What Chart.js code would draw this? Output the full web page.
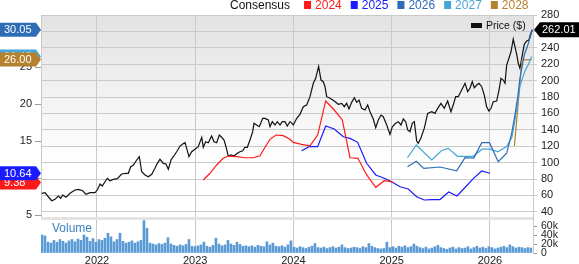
<!DOCTYPE html>
<html>
<head>
<meta charset="utf-8">
<script src="https://cdn.jsdelivr.net/npm/chart.js@4/dist/chart.umd.min.js"></script>
<style>
  html, body { margin: 0; padding: 0; background: #fff; }
  #wrap { width: 579px; height: 264px; }
</style>
</head>
<body>
<div id="wrap"><canvas id="chart" width="579" height="264"></canvas></div>
<script>
// axis ticks
const yearTicks = [2022, 2023, 2024, 2025, 2026];
const priceTicks = [40, 60, 80, 100, 120, 140, 160, 180, 200, 220, 240, 260, 280];
const epsTicks = [5, 10, 15, 20, 25, 30];
const volTicks = [0, 20, 40, 60];

// price ($), dates as decimal years
const priceDates = [
  2021.437, 2021.471, 2021.504, 2021.539, 2021.573, 2021.606, 2021.631, 2021.651, 2021.684, 2021.725,
  2021.776, 2021.810, 2021.854, 2021.888, 2021.929, 2021.980, 2022.003, 2022.031, 2022.054, 2022.081,
  2022.105, 2022.132, 2022.166, 2022.207, 2022.251, 2022.295, 2022.319, 2022.343, 2022.369, 2022.404,
  2022.431, 2022.455, 2022.489, 2022.522, 2022.557, 2022.590, 2022.614, 2022.641, 2022.675, 2022.702,
  2022.726, 2022.753, 2022.777, 2022.811, 2022.845, 2022.872, 2022.896, 2022.913, 2022.936, 2022.964,
  2022.997, 2023.031, 2023.066, 2023.082, 2023.106, 2023.133, 2023.167, 2023.191, 2023.218, 2023.245,
  2023.269, 2023.293, 2023.313, 2023.336, 2023.361, 2023.394, 2023.428, 2023.455, 2023.483, 2023.506,
  2023.530, 2023.557, 2023.585, 2023.598, 2023.625, 2023.652, 2023.687, 2023.710, 2023.744, 2023.761,
  2023.784, 2023.812, 2023.835, 2023.863, 2023.886, 2023.913, 2023.937, 2023.964, 2023.975, 2023.998,
  2024.033, 2024.066, 2024.100, 2024.134, 2024.168, 2024.202, 2024.226, 2024.256, 2024.280, 2024.303,
  2024.321, 2024.338, 2024.372, 2024.415, 2024.456, 2024.491, 2024.517, 2024.541, 2024.565, 2024.592,
  2024.619, 2024.643, 2024.667, 2024.694, 2024.728, 2024.755, 2024.779, 2024.812, 2024.837, 2024.863,
  2024.891, 2024.914, 2024.949, 2024.982, 2025.006, 2025.040, 2025.067, 2025.094, 2025.118, 2025.142,
  2025.162, 2025.186, 2025.209, 2025.230, 2025.254, 2025.270, 2025.298, 2025.331, 2025.366, 2025.407,
  2025.440, 2025.468, 2025.501, 2025.535, 2025.569, 2025.603, 2025.626, 2025.651, 2025.677, 2025.712,
  2025.746, 2025.773, 2025.796, 2025.820, 2025.840, 2025.865, 2025.888, 2025.916, 2025.942, 2025.966,
  2025.990, 2026.010, 2026.034, 2026.068, 2026.092, 2026.112, 2026.135, 2026.153, 2026.170, 2026.193,
  2026.214, 2026.237, 2026.254, 2026.272, 2026.288, 2026.305, 2026.329, 2026.349, 2026.374, 2026.397,
  2026.410, 2026.431
];
const priceValues = [
  62.6, 63.3, 58.4, 53.5, 55.2, 59.3, 56.5, 60.5, 57.7, 62.6,
  66.6, 67.4, 65.7, 61.3, 63.3, 63.3, 66.6, 73.9, 71.5, 76.7,
  80.9, 77.9, 79.6, 80.4, 86.1, 87.0, 87.0, 95.0, 96.7, 103.2,
  107.2, 88.9, 84.9, 82.8, 85.7, 93.1, 99.1, 104.0, 99.1, 98.3,
  91.8, 103.2, 107.2, 113.3, 120.2, 122.7, 124.3, 117.4, 107.2, 113.3,
  116.2, 119.4, 130.9, 118.7, 125.5, 124.3, 132.4, 125.5, 124.3, 133.7,
  130.9, 127.6, 119.4, 108.0, 109.3, 108.0, 111.3, 113.3, 114.5, 118.7,
  118.7, 127.6, 137.7, 147.9, 145.9, 143.8, 154.0, 154.0, 152.0, 143.8,
  149.9, 145.9, 149.9, 145.9, 149.9, 149.9, 144.6, 149.9, 149.1, 145.9,
  154.0, 158.9, 168.2, 170.2, 180.4, 196.7, 202.8, 217.4, 200.7, 198.7,
  192.6, 180.4, 178.4, 175.1, 171.1, 172.3, 168.2, 172.3, 165.4, 173.5,
  179.1, 173.5, 176.3, 166.2, 164.1, 170.2, 162.1, 153.2, 142.6, 152.0,
  158.0, 156.0, 145.9, 134.5, 143.8, 147.9, 149.9, 145.9, 153.2, 149.9,
  139.8, 137.7, 147.9, 149.9, 126.3, 123.5, 130.4, 141.8, 160.1, 162.1,
  160.1, 166.2, 172.3, 166.2, 175.1, 162.1, 170.2, 180.4, 180.4, 188.5,
  196.7, 186.5, 190.6, 198.7, 191.3, 194.6, 196.7, 192.6, 182.4, 168.2,
  162.9, 166.2, 174.3, 175.1, 188.5, 202.8, 200.7, 196.7, 219.0, 227.2,
  235.2, 250.7, 241.3, 232.1, 221.1, 215.0, 231.2, 244.3, 248.3, 249.5,
  255.6, 262.01
];

// consensus EPS estimates by fiscal year
const eps2024Dates = [2023.082, 2023.150, 2023.218, 2023.285, 2023.336, 2023.422, 2023.506, 2023.591, 2023.659, 2023.710,
  2023.761, 2023.822, 2023.896, 2023.964, 2023.998, 2024.083, 2024.168, 2024.246, 2024.328, 2024.415,
  2024.497, 2024.575, 2024.656, 2024.745, 2024.837, 2024.924, 2024.992, 2025.013];
const eps2024Values = [9.73, 10.64, 11.76, 12.66, 12.97, 12.88, 12.74, 12.74, 13.01, 14.15,
  15.23, 15.81, 15.72, 15.23, 14.82, 14.55, 14.36, 15.81, 20.41, 19.19,
  17.84, 12.74, 12.66, 10.41, 8.74, 9.64, 9.50, 9.38];

const eps2025Dates = [2024.083, 2024.158, 2024.246, 2024.328, 2024.415, 2024.507, 2024.575, 2024.653, 2024.745, 2024.837,
  2024.924, 2024.999, 2025.084, 2025.168, 2025.254, 2025.331, 2025.407, 2025.491, 2025.580, 2025.664,
  2025.746, 2025.830, 2025.916, 2026.000];
const eps2025Values = [13.69, 14.23, 14.23, 17.03, 16.62, 15.58, 15.36, 14.82, 11.99, 10.41,
  9.96, 9.50, 8.82, 8.51, 7.47, 7.03, 7.09, 7.09, 8.11, 7.57,
  8.72, 9.91, 10.95, 10.64];

const eps2026Dates = [2025.160, 2025.250, 2025.326, 2025.491, 2025.661, 2025.746, 2025.835, 2025.916, 2025.995, 2026.084,
  2026.170, 2026.221, 2026.254, 2026.285, 2026.305, 2026.349, 2026.392, 2026.431];
const eps2026Values = [11.53, 12.26, 11.31, 11.49, 10.97, 12.74, 12.70, 14.77, 14.77, 12.20,
  13.34, 16.04, 18.51, 21.22, 23.51, 26.62, 28.24, 30.05];

const eps2027Dates = [2025.160, 2025.250, 2025.407, 2025.508, 2025.576, 2025.669, 2025.830, 2025.919, 2026.000, 2026.081,
  2026.170, 2026.224, 2026.272, 2026.305, 2026.356, 2026.389, 2026.424];
const eps2027Values = [12.74, 14.46, 12.43, 13.72, 14.01, 12.93, 12.93, 13.89, 13.89, 13.55,
  14.26, 15.54, 19.19, 22.43, 24.46, 25.27, 26.42];

const eps2028Dates = [2026.249, 2026.326, 2026.424];
const eps2028Values = [14.32, 25.95, 26.00];

// volume (thousands), one bar per period starting at volStart
const volStart = 2021.44;
const volStep = 0.03053;
const volValues = [
  40, 38, 24, 22, 28, 24, 30, 26, 22, 27,
  30, 25, 31, 28, 40, 35, 26, 32, 24, 30,
  28, 33, 44, 36, 25, 30, 44, 26, 22, 24,
  27, 22, 25, 28, 72, 55, 22, 20, 18, 21,
  19, 22, 34, 20, 17, 15, 18, 16, 19, 30,
  15, 14, 16, 18, 24, 15, 13, 17, 33, 20,
  16, 18, 28, 20, 17, 24, 19, 15, 16, 14,
  16, 13, 17, 15, 14, 25, 18, 22, 15, 14,
  16, 13, 18, 27, 13, 11, 14, 12, 10, 13,
  15, 21, 12, 11, 13, 10, 12, 14, 11, 13,
  18, 12, 10, 11, 13, 12, 10, 14, 12, 21,
  15, 12, 10, 9, 10, 24, 12, 14, 11, 15,
  13, 16, 12, 14, 20, 15, 12, 10, 13, 9,
  11, 14, 17, 12, 10, 8, 11, 13, 9, 12,
  10, 11, 14, 9, 12, 15, 11, 13, 10, 14,
  12, 9, 11, 13, 15, 12, 18, 14, 11, 13,
  12, 10, 12, 11
];

const FONT = '"Liberation Sans", Arial, Helvetica, sans-serif';
const consensusYears = ['2024', '2025', '2026', '2027', '2028'];
const consensusColors = ['#ff1a1a', '#1a1aff', '#2f6cb6', '#45a6d9', '#b5812e'];

function pairs(xs, ys) {
  return xs.map((x, i) => ({ x: x, y: ys[i] }));
}

const epsSeries = [
  [eps2024Dates, eps2024Values],
  [eps2025Dates, eps2025Values],
  [eps2026Dates, eps2026Values],
  [eps2027Dates, eps2027Values],
  [eps2028Dates, eps2028Values]
];

// background gradient of the price panel, separator band
const panelPlugin = {
  id: 'panels',
  beforeDraw(chart) {
    const { ctx, chartArea } = chart;
    const p = chart.scales.yPrice;
    ctx.save();
    ctx.fillStyle = '#fff';
    ctx.fillRect(0, 0, chart.width, chart.height);
    const g = ctx.createLinearGradient(0, p.top, 0, p.bottom);
    g.addColorStop(0, '#e2e2e2');
    g.addColorStop(0.5, '#f6f6f6');
    g.addColorStop(0.75, '#ffffff');
    ctx.fillStyle = g;
    ctx.fillRect(chartArea.left, p.top, chartArea.right - chartArea.left, p.bottom - p.top);
    ctx.restore();
  },
  beforeDatasetsDraw(chart) {
    const { ctx, chartArea } = chart;
    const p = chart.scales.yPrice;
    ctx.save();
    ctx.fillStyle = '#e3e3e3';
    ctx.fillRect(chartArea.left, p.bottom, chartArea.right - chartArea.left, 3);
    ctx.restore();
  }
};

function leftTag(ctx, y, text, color) {
  const h = 14;
  ctx.beginPath();
  ctx.moveTo(0, y - h / 2);
  ctx.lineTo(36, y - h / 2);
  ctx.lineTo(41, y);
  ctx.lineTo(36, y + h / 2);
  ctx.lineTo(0, y + h / 2);
  ctx.closePath();
  ctx.fillStyle = color;
  ctx.fill();
  ctx.fillStyle = '#fff';
  ctx.font = '11px ' + FONT;
  ctx.textAlign = 'left';
  ctx.textBaseline = 'middle';
  ctx.fillText(text, 4, y + 0.5);
}

const overlayPlugin = {
  id: 'overlay',
  afterDraw(chart) {
    const { ctx, chartArea } = chart;
    const eps = chart.scales.yEps;
    const price = chart.scales.yPrice;
    const vol = chart.scales.yVol;
    ctx.save();

    // last-value tags on the left axis, 2024 first so later years sit on top
    epsSeries.forEach((s, i) => {
      const v = s[1][s[1].length - 1];
      leftTag(ctx, eps.getPixelForValue(v), v.toFixed(2), consensusColors[i]);
    });

    // last price tag on the right
    const lp = priceValues[priceValues.length - 1];
    const py = price.getPixelForValue(lp);
    const h = 15;
    ctx.beginPath();
    ctx.moveTo(chartArea.right + 1, py);
    ctx.lineTo(chartArea.right + 7, py - h / 2);
    ctx.lineTo(chart.width, py - h / 2);
    ctx.lineTo(chart.width, py + h / 2);
    ctx.lineTo(chartArea.right + 7, py + h / 2);
    ctx.closePath();
    ctx.fillStyle = '#000';
    ctx.fill();
    ctx.fillStyle = '#fff';
    ctx.font = '11px ' + FONT;
    ctx.textAlign = 'left';
    ctx.textBaseline = 'middle';
    ctx.fillText(lp.toFixed(2), chartArea.right + 9, py + 0.5);

    // top legend
    ctx.font = '12px ' + FONT;
    ctx.textBaseline = 'middle';
    ctx.fillStyle = '#111';
    let x = 230;
    ctx.fillText('Consensus', x, 6);
    x += ctx.measureText('Consensus').width + 14;
    consensusYears.forEach((yr, i) => {
      ctx.fillStyle = consensusColors[i];
      ctx.fillRect(x, 1, 7, 8);
      ctx.fillText(yr, x + 11, 6);
      x += 11 + ctx.measureText(yr).width + 9;
    });

    // price legend inside the panel
    ctx.fillStyle = '#111';
    ctx.fillRect(471, 23, 11, 5);
    ctx.font = '10.5px ' + FONT;
    ctx.fillText('Price ($)', 486, 26);

    // volume caption
    ctx.fillStyle = '#3b82c4';
    ctx.font = '12px ' + FONT;
    ctx.fillText('Volume', 52, vol.top + 12);

    ctx.restore();
  }
};

const datasets = [];
epsSeries.forEach((s, i) => {
  datasets.push({
    type: 'line',
    label: consensusYears[i],
    data: pairs(s[0], s[1]),
    yAxisID: 'yEps',
    borderColor: consensusColors[i],
    borderWidth: 1.2,
    pointRadius: 0,
    tension: 0
  });
});
datasets.push({
  type: 'line',
  label: 'Price ($)',
  data: pairs(priceDates, priceValues),
  yAxisID: 'yPrice',
  borderColor: '#111',
  borderWidth: 1.2,
  pointRadius: 0,
  tension: 0
});
datasets.push({
  type: 'bar',
  label: 'Volume',
  data: volValues.map((v, i) => ({ x: volStart + i * volStep, y: v })),
  yAxisID: 'yVol',
  backgroundColor: '#5b9bd5',
  barThickness: 2
});

const axisFont = { family: FONT, size: 11 };

new Chart(document.getElementById('chart'), {
  type: 'line',
  data: { datasets },
  options: {
    responsive: false,
    animation: false,
    devicePixelRatio: 1,
    layout: { padding: { top: 15, left: 0, right: 0, bottom: 0 } },
    plugins: { legend: { display: false }, tooltip: { enabled: false } },
    scales: {
      x: {
        type: 'linear',
        min: 2021.43,
        max: 2026.438,
        offset: false,
        afterBuildTicks: s => { s.ticks = yearTicks.map(v => ({ value: v })); },
        afterFit: s => { s.height = 11; },
        grid: { color: '#cacaca', drawTicks: false, offset: false },
        border: { display: false },
        ticks: { padding: 1, color: '#222', font: axisFont, maxRotation: 0, autoSkip: false, callback: v => String(v) }
      },
      // left boxes are stacked in reverse order, so the lower (volume) slot comes first
      yLeftVol: {
        type: 'linear',
        position: 'left',
        stack: 'left',
        stackWeight: 36,
        afterFit: s => { s.width = 0; },
        grid: { display: false },
        border: { display: false },
        ticks: { display: false }
      },
      yEps: {
        type: 'linear',
        position: 'left',
        stack: 'left',
        stackWeight: 202,
        min: 4.73,
        max: 32.03,
        afterBuildTicks: s => { s.ticks = epsTicks.map(v => ({ value: v })); },
        afterFit: s => { s.width = 41; },
        grid: { drawOnChartArea: false, drawTicks: true, tickLength: 6, color: '#999' },
        border: { display: true, color: '#cacaca' },
        ticks: { padding: 3, color: '#222', font: axisFont, autoSkip: false }
      },
      yPrice: {
        type: 'linear',
        position: 'right',
        stack: 'right',
        stackWeight: 202,
        min: 33.7,
        max: 280,
        afterBuildTicks: s => { s.ticks = priceTicks.map(v => ({ value: v })); },
        afterFit: s => { s.width = 46; },
        grid: { color: '#cacaca', tickLength: 4 },
        border: { display: true, color: '#cacaca' },
        ticks: { padding: 4, color: '#222', font: axisFont, autoSkip: false }
      },
      yVol: {
        type: 'linear',
        position: 'right',
        stack: 'right',
        stackWeight: 36,
        min: 0,
        max: 80,
        afterBuildTicks: s => { s.ticks = volTicks.map(v => ({ value: v })); },
        afterFit: s => { s.width = 46; },
        grid: { drawOnChartArea: false, tickLength: 4, color: '#999' },
        border: { display: true, color: '#cacaca' },
        ticks: { padding: 4, color: '#222', font: { family: FONT, size: 10.5 }, autoSkip: false, callback: v => v === 0 ? '0' : v + 'k' }
      }
    }
  },
  plugins: [panelPlugin, overlayPlugin]
});
</script>
</body>
</html>
